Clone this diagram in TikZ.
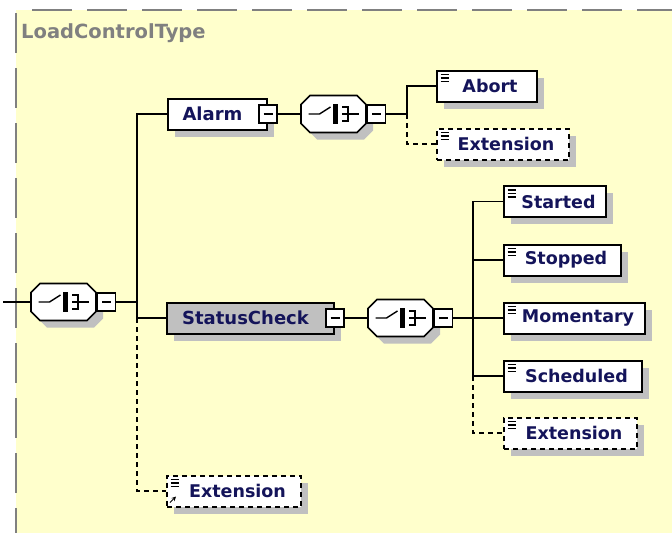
\documentclass[tikz,border=0pt]{standalone}
\usepackage{fontspec}
\setmainfont{DejaVu Sans}
\usepackage{tikz}
\usetikzlibrary{shadows}
\definecolor{xsd_yellow}{HTML}{FFFFCC}
\definecolor{xsd_gray}{HTML}{808080}
\definecolor{xsd_shadow}{HTML}{C0C0C0}
\definecolor{xsd_box}{HTML}{C0C0C0}
\definecolor{xsd_text}{HTML}{14145A}

% compositor octagon with the sequence symbol
\newcommand{\seqicon}[1]{%
  \begin{scope}[shift={(#1.center)}]
    \fill[xsd_shadow, shift={(7,7)}] (-23.5,-18.5) -- (23.5,-18.5) -- (32.5,-9.5) -- (32.5,9.5) -- (23.5,18.5) -- (-23.5,18.5) -- (-32.5,9.5) -- (-32.5,-9.5) -- cycle;
    \draw[line width=1.6pt, fill=white] (-23.5,-18.5) -- (23.5,-18.5) -- (32.5,-9.5) -- (32.5,9.5) -- (23.5,18.5) -- (-23.5,18.5) -- (-32.5,9.5) -- (-32.5,-9.5) -- cycle;
    \draw[line width=1.4pt] (-25,0) -- (-14,0) -- (-3,-7);
    \fill (-0.5,-10) rectangle (4.5,10);
    \draw[line width=1.4pt] (8.5,-7) -- (14.5,-7) -- (14.5,7) -- (8.5,7);
    \draw[line width=1.4pt] (8.5,0) -- (25,0);
  \end{scope}}
% element symbol in the top left corner
\newcommand{\elemicon}[1]{%
  \begin{scope}[shift={(#1.north west)}]
    \foreach \dy in {5,8.5,12} \draw[line width=1.2pt] (4.5,\dy) -- (13,\dy);
  \end{scope}}

\begin{document}
\begin{tikzpicture}[x=1pt, y=-1pt,
    xsdshadow/.style={drop shadow={shadow xshift=7pt, shadow yshift=-7pt, fill=xsd_shadow, opacity=1}},
    element/.style={draw, line width=2pt, fill=white, minimum height=31pt, inner sep=0pt, xsdshadow,
      font=\fontsize{18}{22}\selectfont\bfseries, text=xsd_text},
    leaf/.style={element, font=\fontsize{17.5}{21}\selectfont\bfseries},
    optelement/.style={leaf, dash pattern=on 5pt off 4pt},
    sequence/.style={minimum width=66pt, minimum height=38pt, inner sep=0pt},
    minusbox/.style={draw, line width=1.6pt, fill=white, minimum size=18pt, inner sep=0pt},
    wire/.style={line width=1.6pt},
    optwire/.style={wire, dash pattern=on 5pt off 4pt}]
    \useasboundingbox (0,0) rectangle (672,533);

    % Draw the complex type frame
    \fill[xsd_yellow] (16,10) rectangle (672,533);
    \draw[xsd_gray, line width=2pt, dash pattern=on 40pt off 15pt] (32,10) -- (672,10);
    \draw[xsd_gray, line width=2pt, dash pattern=on 40pt off 15pt] (16,13) -- (16,533);
    \node[anchor=base west, inner sep=0pt, text=xsd_gray, font=\fontsize{19.5}{23}\selectfont\bfseries] (title) at (21,38) {LoadControlType};

    % Main sequence
    \coordinate (entry) at (3,302);
    \node[sequence] (main_seq) at (63.5,302) {};
    \seqicon{main_seq}
    \node[minusbox, anchor=west] (main_minus) at (main_seq.east) {\rule{9pt}{1.5pt}};
    \coordinate (main_join) at (137,302);

    % Alarm branch
    \node[element, minimum width=99pt] (alarm) at (217.5,114) {Alarm\hspace*{10pt}};
    \node[minusbox] (alarm_minus) at (alarm.east) {\rule{9pt}{1.5pt}};
    \node[sequence] (alarm_seq) at (333.5,114) {};
    \seqicon{alarm_seq}
    \node[minusbox, anchor=west] (alarm_seq_minus) at (alarm_seq.east) {\rule{9pt}{1.5pt}};
    \coordinate (alarm_join) at (407,114);
    \node[leaf, minimum width=100pt] (abort) at (487,86) {\hspace*{6pt}Abort};
    \elemicon{abort}
    \node[optelement, minimum width=132pt] (alarm_ext) at (503,144) {\hspace*{6pt}Extension};
    \elemicon{alarm_ext}

    % StatusCheck branch
    \node[element, fill=xsd_box, minimum width=167pt] (status) at (250.5,318) {StatusCheck\hspace*{10pt}};
    \node[minusbox] (status_minus) at (status.east) {\rule{9pt}{1.5pt}};
    \node[sequence] (status_seq) at (400.5,318) {};
    \seqicon{status_seq}
    \node[minusbox, anchor=west] (status_seq_minus) at (status_seq.east) {\rule{9pt}{1.5pt}};
    \coordinate (status_join) at (473,318);
    \node[leaf, minimum width=102pt] (started) at (555,201.5) {\hspace*{7pt}Started};
    \elemicon{started}
    \node[leaf, minimum width=117pt] (stopped) at (562.5,260) {\hspace*{7pt}Stopped};
    \elemicon{stopped}
    \node[leaf, minimum width=141pt] (momentary) at (574.5,318) {\hspace*{7pt}Momentary};
    \elemicon{momentary}
    \node[leaf, minimum width=138pt] (scheduled) at (573,376) {\hspace*{7pt}Scheduled};
    \elemicon{scheduled}
    \node[optelement, minimum width=133pt] (status_ext) at (570.5,433) {\hspace*{7pt}Extension};
    \elemicon{status_ext}

    % Extension reference at the bottom
    \node[optelement, minimum width=134pt] (ext) at (234,491) {\hspace*{7pt}Extension};
    \elemicon{ext}
    \draw[line width=1pt, ->, >=stealth] ([shift={(4,28)}]ext.north west) -- ++(6,-6);

    % Connectors
    \draw[wire] (entry) -- (main_seq.west);
    \draw[wire] (main_minus.east) -- (main_join);
    \draw[wire] (alarm.west) -- (alarm.west -| main_join) -- (status.west -| main_join) -- (status.west);
    \draw[optwire] (status.west -| main_join) |- (ext.west);
    \draw[wire] (alarm_minus.east) -- (alarm_seq.west);
    \draw[wire] (alarm_seq_minus.east) -- (alarm_join);
    \draw[wire] (abort.west) -| (alarm_join);
    \draw[optwire] (alarm_join) |- (alarm_ext.west);
    \draw[wire] (status_minus.east) -- (status_seq.west);
    \draw[wire] (status_seq_minus.east) -- (status_join);
    \draw[wire] (started.west) -| (status_join);
    \draw[wire] (stopped.west) -- (stopped.west -| status_join);
    \draw[wire] (momentary.west) -- (status_join);
    \draw[wire] (scheduled.west) -| (status_join);
    \draw[optwire] (scheduled.west -| status_join) |- (status_ext.west);
  \end{tikzpicture}
\end{document}
